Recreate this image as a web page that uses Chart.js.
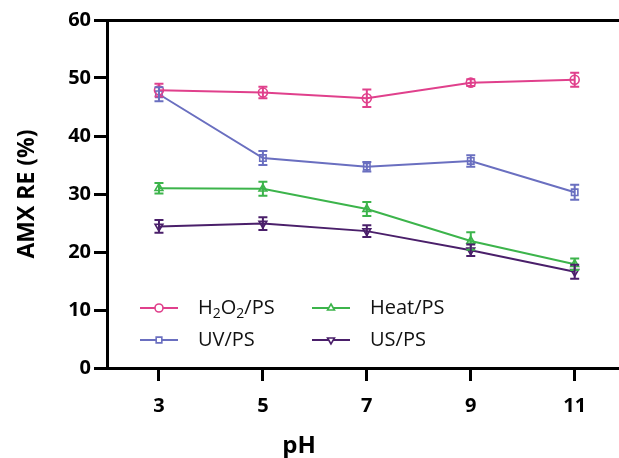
<!DOCTYPE html>
<html>
<head>
<meta charset="utf-8">
<script src="https://cdn.jsdelivr.net/npm/chart.js@4.4.1/dist/chart.umd.min.js"></script>
<style>
  html, body { margin: 0; padding: 0; background: #fff; overflow: hidden; }
  #wrap { width: 619px; height: 458px; overflow: hidden; }
</style>
</head>
<body>
<div id="wrap"><canvas id="chart" width="626" height="458"></canvas></div>
<script>
// pH values on x axis
const phValues = [3, 5, 7, 9, 11];
const yTicks = [0, 10, 20, 30, 40, 50, 60];

// Removal efficiency (%) and error bars
const h2o2Values = [47.9, 47.5, 46.5, 49.2, 49.7];
const h2o2Err = [1.1, 1.0, 1.5, 0.6, 1.2];
const uvValues = [47.2, 36.2, 34.7, 35.7, 30.3];
const uvErr = [1.2, 1.2, 0.8, 1.0, 1.3];
const heatValues = [31.0, 30.9, 27.4, 21.9, 17.9];
const heatErr = [0.9, 1.2, 1.2, 1.5, 1.0];
const usValues = [24.4, 24.9, 23.6, 20.3, 16.6];
const usErr = [1.1, 1.1, 1.0, 1.0, 1.2];

const seriesLabels = ['H2O2/PS', 'UV/PS', 'Heat/PS', 'US/PS'];
const xTitle = 'pH';
const yTitle = 'AMX RE (%)';
const colors = ['#e0408c', '#6a6fc0', '#3cb44b', '#4a1f6a'];
const markers = ['circle', 'rect', 'triangle', 'triangle'];
const rotations = [0, 0, 0, 180];
const allValues = [h2o2Values, uvValues, heatValues, usValues];
const allErr = [h2o2Err, uvErr, heatErr, usErr];

const font = "'Open Sans', 'Noto Sans', sans-serif";

const datasets = allValues.map((vals, i) => ({
    label: seriesLabels[i],
    data: vals.map((v, j) => ({ x: phValues[j], y: v, err: allErr[i][j] })),
    borderColor: colors[i],
    backgroundColor: 'rgba(255,255,255,0)',
    borderWidth: 2,
    pointStyle: markers[i],
    pointRotation: rotations[i],
    pointRadius: 4.5,
    pointBorderWidth: 1.6,
    pointBackgroundColor: 'rgba(255,255,255,0)',
    tension: 0
}));

// Draw error bars
const errorBars = {
    id: 'errorBars',
    afterDatasetsDraw(chart) {
        const ctx = chart.ctx;
        const yScale = chart.scales.y;
        ctx.save();
        chart.data.datasets.forEach((ds, i) => {
            const meta = chart.getDatasetMeta(i);
            ctx.strokeStyle = ds.borderColor;
            ctx.lineWidth = 2;
            meta.data.forEach((pt, j) => {
                const d = ds.data[j];
                const top = yScale.getPixelForValue(d.y + d.err);
                const bot = yScale.getPixelForValue(d.y - d.err);
                ctx.beginPath();
                ctx.moveTo(pt.x, top); ctx.lineTo(pt.x, bot);
                ctx.moveTo(pt.x - 4.5, top); ctx.lineTo(pt.x + 4.5, top);
                ctx.moveTo(pt.x - 4.5, bot); ctx.lineTo(pt.x + 4.5, bot);
                ctx.stroke();
            });
        });
        ctx.restore();
    }
};

// Legend with subscripts + axis titles
const customLegend = {
    id: 'customLegend',
    afterDraw(chart) {
        const ctx = chart.ctx;
        const pos = [[140, 308], [140, 340], [312, 308], [312, 340]];
        ctx.save();
        chart.data.datasets.forEach((ds, i) => {
            const [x0, y0] = pos[i];
            ctx.strokeStyle = ds.borderColor;
            ctx.lineWidth = 2;
            ctx.beginPath();
            ctx.moveTo(x0, y0); ctx.lineTo(x0 + 38, y0);
            ctx.stroke();
            ctx.lineWidth = 1.6;
            ctx.fillStyle = '#fff';
            Chart.helpers.drawPoint(ctx, {
                pointStyle: ds.pointStyle, rotation: ds.pointRotation, radius: 4, borderWidth: 1.6
            }, x0 + 19, y0);
            ctx.fillStyle = '#111';
            ctx.textBaseline = 'middle';
            ctx.textAlign = 'left';
            let tx = x0 + 58;
            if (i === 0) {
                const parts = [['H', 0], ['2', 1], ['O', 0], ['2', 1], ['/PS', 0]];
                parts.forEach(([t, sub]) => {
                    ctx.font = (sub ? '14px ' : '20px ') + font;
                    ctx.fillText(t, tx, y0 + (sub ? 6 : 0));
                    tx += ctx.measureText(t).width;
                });
            } else {
                ctx.font = '20px ' + font;
                ctx.fillText(ds.label, tx, y0);
            }
        });

        // axis titles
        const area = chart.chartArea;
        ctx.fillStyle = '#000';
        ctx.textAlign = 'center';
        ctx.textBaseline = 'middle';
        ctx.font = 'bold 24px ' + font;
        ctx.fillText(xTitle, 299, 446);
        ctx.translate(27, (area.top + area.bottom) / 2);
        ctx.rotate(-Math.PI / 2);
        ctx.font = 'bold 23px ' + font;
        ctx.fillText(yTitle, 0, 0);
        ctx.restore();
    }
};

new Chart(document.getElementById('chart'), {
    type: 'line',
    data: { datasets: datasets },
    options: {
        responsive: false,
        animation: false,
        layout: { padding: { top: 20, right: 0, bottom: 0, left: 0 } },
        plugins: { legend: { display: false }, tooltip: { enabled: false } },
        scales: {
            x: {
                type: 'linear',
                min: 2,
                max: 11.87,
                afterBuildTicks(scale) { scale.ticks = phValues.map(v => ({ value: v })); },
                afterFit(scale) { scale.height = 90; },
                border: { color: '#000', width: 3 },
                grid: { drawOnChartArea: false, color: '#000', lineWidth: 3, tickLength: 13 },
                ticks: { color: '#000', font: { family: font, size: 20, weight: 'bold' }, padding: 13 }
            },
            y: {
                min: 0,
                max: 60,
                afterBuildTicks(scale) { scale.ticks = yTicks.map(v => ({ value: v })); },
                afterFit(scale) { scale.width = 107; },
                border: { color: '#000', width: 3 },
                grid: {
                    drawOnChartArea: true,
                    color: ctx => ctx.tick && ctx.tick.value === 60 ? '#000' : 'rgba(0,0,0,0)',
                    lineWidth: 3,
                    tickLength: 13,
                    tickColor: '#000'
                },
                ticks: { color: '#000', font: { family: font, size: 20, weight: 'bold' }, padding: 3 }
            }
        }
    },
    plugins: [errorBars, customLegend]
});
</script>
</body>
</html>
